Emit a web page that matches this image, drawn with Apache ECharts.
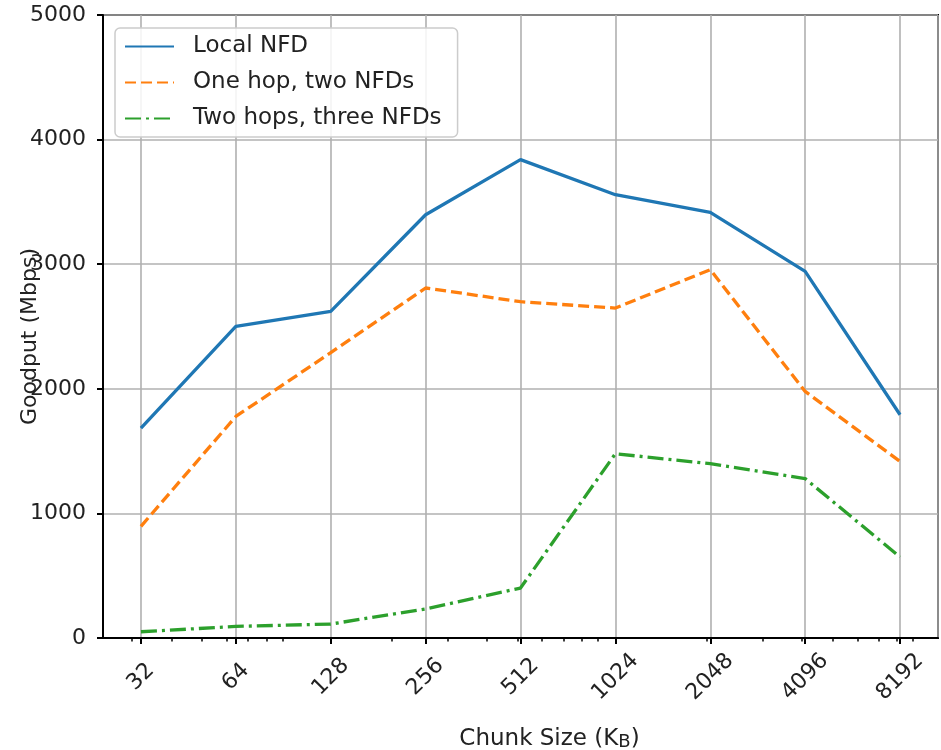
<!DOCTYPE html>
<html>
<head>
<meta charset="utf-8">
<script src="https://cdn.jsdelivr.net/npm/echarts@6/dist/echarts.min.js"></script>
<style>
html,body{margin:0;padding:0;background:#fff;}
#chart{width:941px;height:750px;}
</style>
</head>
<body>
<div id="chart"></div>
<script>
const chunkSizes = [32, 64, 128, 256, 512, 1024, 2048, 4096, 8192];
const localNFD = [1685, 2501, 2621, 3397, 3839, 3558, 3416, 2942, 1792];
const oneHop = [896, 1778, 2290, 2809, 2699, 2648, 2956, 1979, 1417];
const twoHops = [50, 93, 112, 233, 401, 1479, 1399, 1279, 650];
const seriesNames = ['Local NFD', 'One hop, two NFDs', 'Two hops, three NFDs'];
const yTicks = [0, 1000, 2000, 3000, 4000, 5000];
const minorTickValues = [30, 40, 50, 60, 70, 80, 90, 200, 300, 400, 500, 600, 700, 800, 900,
  2000, 3000, 4000, 5000, 6000, 7000, 8000, 9000];

const FONT = 'DejaVu Sans';
function pairs(vals) { return chunkSizes.map((c, i) => [c, vals[i]]); }

const X_MIN = Math.pow(2, 4.6), X_MAX = Math.pow(2, 13.4);

const chart = echarts.init(document.getElementById('chart'), null, {renderer: 'canvas'});
chart.setOption({
  animation: false,
  backgroundColor: '#ffffff',
  textStyle: {fontFamily: FONT},
  grid: {left: 103, right: 3, top: 15, bottom: 112, outerBoundsMode: 'none', containLabel: false,
    show: true, borderColor: '#000', borderWidth: 2, backgroundColor: 'transparent'},
  legend: {
    left: 115, top: 28, orient: 'vertical',
    data: seriesNames,
    itemWidth: 49, itemHeight: 14, itemGap: 13,
    padding: [7, 16, 7, 9],
    backgroundColor: 'rgba(255,255,255,0.85)',
    borderColor: '#cccccc', borderWidth: 1.5, borderRadius: 5,
    itemStyle: {opacity: 0},
    textStyle: {fontFamily: FONT, fontSize: 23, color: '#222', lineHeight: 22, padding: [0, 0, 0, 14]}
  },
  xAxis: [{
    type: 'log', logBase: 2,
    min: X_MIN, max: X_MAX,
    name: 'Chunk Size (K{b|B})',
    nameLocation: 'middle', nameGap: 89, nameMoveOverlap: false,
    nameTextStyle: {fontFamily: FONT, fontSize: 23, color: '#222', padding: [0, 0, 0, 58],
      rich: {b: {fontFamily: FONT, fontSize: 18, color: '#222', verticalAlign: 'bottom', padding: [6, 0, 0, 0]}}},
    axisLine: {show: true, lineStyle: {color: '#000', width: 2}},
    axisTick: {show: true, length: 6, lineStyle: {color: '#000', width: 2}},
    axisLabel: {
      rotate: 45, align: 'center', verticalAlign: 'middle', margin: 39,
      showMinLabel: false, showMaxLabel: false,
      fontFamily: FONT, fontSize: 22, color: '#222',
      formatter: v => String(Math.round(v))
    },
    splitLine: {show: true, lineStyle: {color: '#b0b0b0', width: 1.6}}
  }, {
    type: 'log', logBase: 2, position: 'bottom', offset: 0,
    min: X_MIN, max: X_MAX,
    axisLine: {show: false},
    axisTick: {show: true, length: 3.5, customValues: minorTickValues, lineStyle: {color: '#000', width: 1.5}},
    axisLabel: {show: false},
    splitLine: {show: false}
  }],
  yAxis: {
    type: 'value', min: yTicks[0], max: yTicks[yTicks.length - 1], interval: 1000,
    name: 'Goodput (Mbps)', nameLocation: 'middle', nameGap: 62, nameMoveOverlap: false,
    nameTextStyle: {fontFamily: FONT, fontSize: 22, color: '#222', padding: [0, 20, 0, 0]},
    axisLine: {show: true, lineStyle: {color: '#000', width: 2}},
    axisTick: {show: true, length: 6, lineStyle: {color: '#000', width: 2}},
    axisLabel: {margin: 17, fontFamily: FONT, fontSize: 22, color: '#222', formatter: v => String(v)},
    splitLine: {show: true, lineStyle: {color: '#b0b0b0', width: 1.6}}
  },
  series: [
    {name: seriesNames[0], type: 'line', data: pairs(localNFD), symbol: 'none', z: 5,
      lineStyle: {color: '#1f77b4', width: 3.3}, itemStyle: {color: '#1f77b4'}},
    {name: seriesNames[1], type: 'line', data: pairs(oneHop), symbol: 'none', z: 4,
      lineStyle: {color: '#ff7f0e', width: 3.3, type: [11, 5]}, itemStyle: {color: '#ff7f0e'}},
    {name: seriesNames[2], type: 'line', data: pairs(twoHops), symbol: 'none', z: 3,
      lineStyle: {color: '#2ca02c', width: 3.3, type: [16, 5, 3, 5]}, itemStyle: {color: '#2ca02c'}}
  ]
});
</script>
</body>
</html>
